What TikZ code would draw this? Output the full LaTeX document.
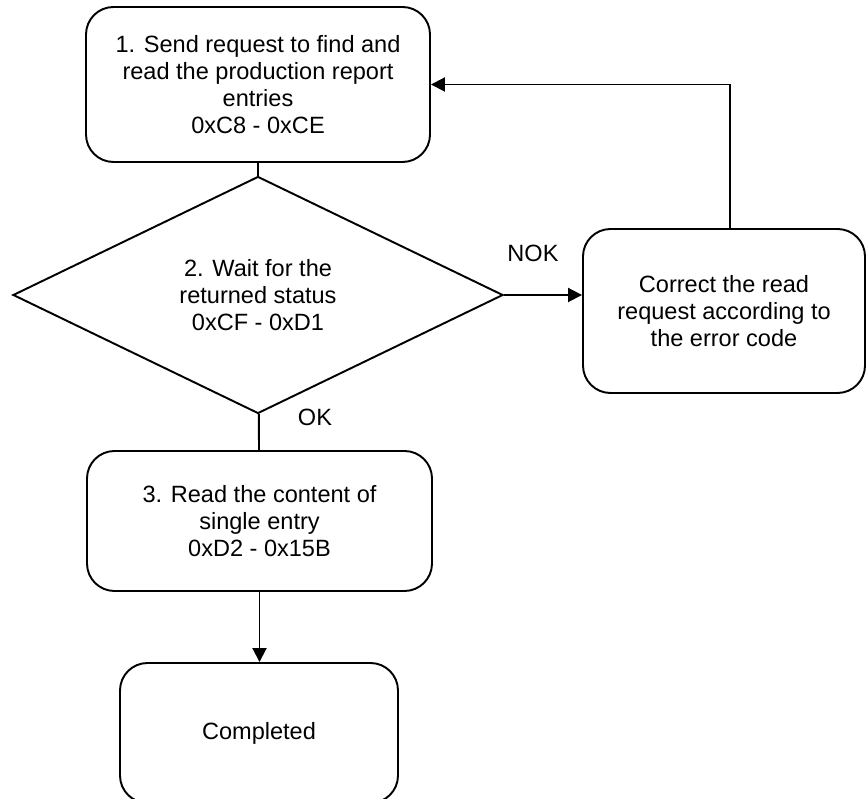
\documentclass[tikz,border=0pt]{standalone}
\usepackage{fontspec}
\setmainfont{Liberation Sans}
\usetikzlibrary{arrows.meta,shapes.geometric}

\tikzset{
  stepbox/.style={draw, rounded corners=0.55cm, align=center, inner sep=0pt},
  decision/.style={draw, diamond, align=center, inner sep=0pt},
  flowlabel/.style={inner sep=0pt},
}

\begin{document}
\begin{tikzpicture}[>={Triangle[length=0.28cm,width=0.28cm]}, line width=1.1pt,
    font=\fontsize{13.4}{15.4}\selectfont]
    \useasboundingbox (0,0) rectangle (17.32,15.96);

    % Step 1
    \node[stepbox, minimum width=6.88cm, minimum height=3.1cm] (send) at (5.16,14.27)
        {1. Send request to find and\\read the production report\\entries\\0xC8 - 0xCE};

    % Step 2 (decision)
    \node[decision, minimum width=9.8cm, minimum height=4.74cm] (wait) at (5.16,10.06)
        {2. Wait for the\\returned status\\0xCF - 0xD1};

    % Error handling
    \node[stepbox, minimum width=5.64cm, minimum height=3.28cm] (correct) at (14.48,9.74)
        {Correct the read\\request according to\\the error code};

    % Step 3
    \node[stepbox, minimum width=6.9cm, minimum height=2.8cm] (read) at (5.19,5.54)
        {3. Read the content of\\single entry\\0xD2 - 0x15B};

    % End (cut off at the bottom)
    \node[stepbox, minimum width=5.56cm, minimum height=2.8cm] (done) at (5.18,1.3)
        {Completed};

    % Connectors
    \draw (send) -- (wait);
    \draw[->] (wait.east) -- (wait.east -| correct.west);
    \node[flowlabel] (nok) at (10.66,10.9) {NOK};
    \draw (wait) -- (read);
    \node[flowlabel] (ok) at (6.3,7.62) {OK};
    \draw[->] (read) -- (read |- done.north);
    \draw[->] ([xshift=0.12cm]correct.north) |- (send.east);
\end{tikzpicture}
\end{document}
